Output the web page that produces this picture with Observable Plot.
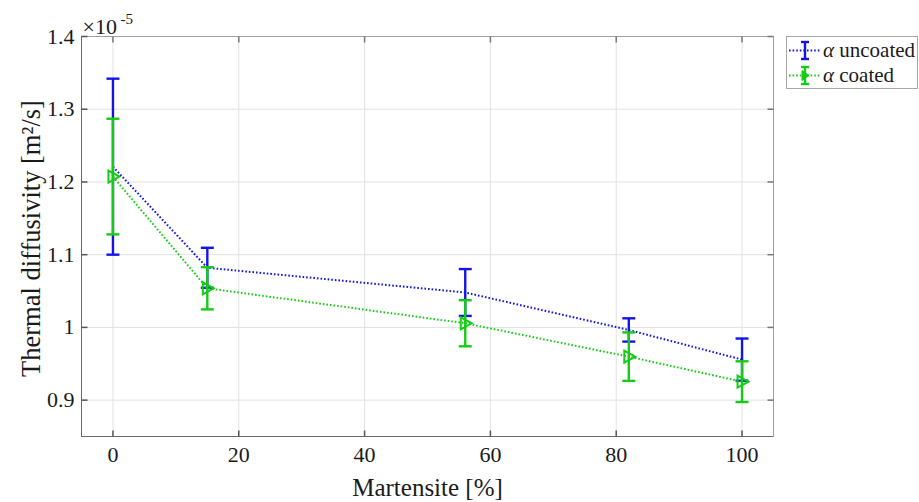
<!DOCTYPE html>
<html><head><meta charset="utf-8">
<script src="https://cdn.jsdelivr.net/npm/d3@7"></script>
<script src="https://cdn.jsdelivr.net/npm/@observablehq/plot@0.6"></script>
<style>
body{margin:0;background:#fff;}
#wrap{position:relative;width:919px;height:502px;font-family:"Liberation Serif","Times New Roman",serif;color:#1a1a1a;}
#wrap svg text{font-family:"Liberation Serif","Times New Roman",serif;}
#legend{position:absolute;left:786px;top:36px;width:132px;height:53px;border:1px solid #a8a8a8;background:#fff;box-sizing:border-box;font-size:21px;padding-top:1px;white-space:nowrap;}
.row{display:flex;align-items:center;height:25px;}
.row svg{flex:none;margin-left:1px;margin-right:1px;}
</style></head><body><div id="wrap"></div>
<script>
// ---- data (values in units of 1e-5 m^2/s) ----
const martensite   = [0, 15, 56, 82, 100];
const uncoatedMean = [1.221, 1.082, 1.048, 0.9965, 0.9557];
const uncoatedErr  = [0.121, 0.0275, 0.0322, 0.016, 0.029];
const coatedMean   = [1.2074, 1.0538, 1.0057, 0.9598, 0.9254];
const coatedErr    = [0.0795, 0.029, 0.0317, 0.0333, 0.028];
const seriesNames  = ["uncoated", "coated"];
const xTicks = [0, 20, 40, 60, 80, 100];
const yTicks = [0.9, 1, 1.1, 1.2, 1.3, 1.4];
const xDomain = [-5, 105];
const yDomain = [0.85, 1.4];

const colors = {uncoated: "#1414e6", coated: "#14cc14"};
const serif = '"Liberation Serif","Times New Roman",serif';

const rows = [];
martensite.forEach((m, i) => {
  rows.push({series: "uncoated", x: m, y: uncoatedMean[i], lo: uncoatedMean[i] - uncoatedErr[i], hi: uncoatedMean[i] + uncoatedErr[i]});
});
martensite.forEach((m, i) => {
  rows.push({series: "coated", x: m, y: coatedMean[i], lo: coatedMean[i] - coatedErr[i], hi: coatedMean[i] + coatedErr[i]});
});

const capSym = {draw(ctx){ ctx.moveTo(-6.5, 0); ctx.lineTo(6.5, 0); }};
const triSym = {draw(ctx){ ctx.moveTo(-4.5, -6); ctx.lineTo(6.5, 0); ctx.lineTo(-4.5, 6); ctx.closePath(); }};
const tUp    = {draw(ctx){ ctx.moveTo(0, 0); ctx.lineTo(0, -6); }};
const tDown  = {draw(ctx){ ctx.moveTo(0, 0); ctx.lineTo(0, 6); }};
const tRight = {draw(ctx){ ctx.moveTo(0, 0); ctx.lineTo(6, 0); }};
const tLeft  = {draw(ctx){ ctx.moveTo(0, 0); ctx.lineTo(-6, 0); }};

function seriesMarks(name) {
  const d = rows.filter(r => r.series === name);
  const c = colors[name];
  const m = [
    Plot.line(d, {x: "x", y: "y", stroke: c, strokeWidth: 2, strokeDasharray: "1.6,2", strokeLinecap: "butt"}),
    Plot.ruleX(d, {x: "x", y1: "lo", y2: "hi", stroke: c, strokeWidth: 2.4}),
    Plot.dot(d, {x: "x", y: "hi", symbol: capSym, stroke: c, fill: "none", strokeWidth: 2.4, r: 5}),
    Plot.dot(d, {x: "x", y: "lo", symbol: capSym, stroke: c, fill: "none", strokeWidth: 2.4, r: 5})
  ];
  if (name === "coated") m.push(Plot.dot(d, {x: "x", y: "y", symbol: triSym, stroke: c, fill: "none", strokeWidth: 2, r: 5}));
  return m;
}

const chart = Plot.plot({
  width: 919, height: 502,
  marginLeft: 81, marginRight: 146, marginTop: 36, marginBottom: 66,
  style: {fontFamily: serif, fontSize: "22px", color: "#1a1a1a", background: "#fff", overflow: "visible"},
  x: {domain: xDomain, ticks: xTicks},
  y: {domain: yDomain, ticks: yTicks},
  marks: [
    Plot.gridX(xTicks, {stroke: "#e2e2e2", strokeOpacity: 1}),
    Plot.gridY(yTicks, {stroke: "#e2e2e2", strokeOpacity: 1}),
    Plot.frame({stroke: "#a0a0a0"}),
    Plot.ruleY([yDomain[0]], {stroke: "#6a6a6a"}),
    Plot.ruleX([xDomain[0]], {stroke: "#6a6a6a"}),
    Plot.dot(xTicks, {x: d => d, frameAnchor: "bottom", symbol: tUp, stroke: "#555", r: 3}),
    Plot.dot(xTicks, {x: d => d, frameAnchor: "top", symbol: tDown, stroke: "#777", r: 3}),
    Plot.dot(yTicks, {y: d => d, frameAnchor: "left", symbol: tRight, stroke: "#555", r: 3}),
    Plot.dot(yTicks, {y: d => d, frameAnchor: "right", symbol: tLeft, stroke: "#777", r: 3}),
    Plot.axisX(xTicks, {tickSize: 0, tickPadding: 10, label: null, fontSize: 22, fontFamily: serif}),
    Plot.axisY(yTicks, {tickSize: 0, tickPadding: 7, label: null, fontSize: 22, fontFamily: serif, tickFormat: d => String(d)}),
    ...seriesMarks("uncoated"),
    ...seriesMarks("coated"),
    Plot.text(["×10"], {frameAnchor: "top-left", textAnchor: "start", lineAnchor: "bottom", dx: 1, dy: -3, fontSize: 22, fontFamily: serif}),
    Plot.text(["-5"], {frameAnchor: "top-left", textAnchor: "start", lineAnchor: "bottom", dx: 39, dy: -13, fontSize: 15, fontFamily: serif}),
    Plot.text(["Martensite [%]"], {frameAnchor: "bottom", textAnchor: "middle", lineAnchor: "middle", dy: 51, fontSize: 25, fontFamily: serif}),
    Plot.text(["Thermal diffusivity [m²/s]"], {frameAnchor: "left", textAnchor: "middle", rotate: -90, lineAnchor: "middle", dx: -50, dy: 2, fontSize: 26.5, fontFamily: serif})
  ]
});

const wrap = document.getElementById("wrap");
wrap.appendChild(chart);

// legend
const legend = document.createElement("div");
legend.id = "legend";
seriesNames.forEach(name => {
  const c = colors[name];
  const row = document.createElement("div");
  row.className = "row";
  let marker = name === "coated" ? `<path d="M14,7.5 L21,12.5 L14,17.5 Z" fill="${c}" stroke="${c}" stroke-width="1"/>` : "";
  row.innerHTML = `<svg width="34" height="25"><line x1="1" y1="12.5" x2="33" y2="12.5" stroke="${c}" stroke-width="2" stroke-dasharray="1.6,2"/>
    <line x1="17" y1="4" x2="17" y2="21" stroke="${c}" stroke-width="2.4"/>
    <line x1="13" y1="4" x2="21" y2="4" stroke="${c}" stroke-width="2.4"/>
    <line x1="13" y1="21" x2="21" y2="21" stroke="${c}" stroke-width="2.4"/>${marker}</svg><span><i>α</i> ${name}</span>`;
  legend.appendChild(row);
});
wrap.appendChild(legend);
</script></body></html>
